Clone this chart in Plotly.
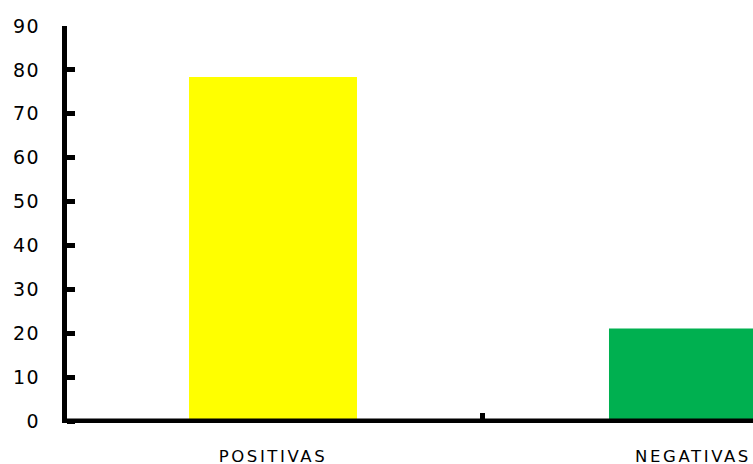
import plotly.graph_objects as go

# Share of results by category (%)
categories = ["POSITIVAS", "NEGATIVAS"]
values = [78.4, 21.1]
bar_colors = ["#FFFF00", "#00B050"]
y_ticks = [0, 10, 20, 30, 40, 50, 60, 70, 80, 90]

fig = go.Figure(
    go.Bar(
        x=categories,
        y=values,
        width=0.4,
        marker=dict(color=bar_colors, line=dict(width=0)),
    )
)

fig.update_layout(
    width=753,
    height=464,
    margin=dict(l=67, r=0, t=26, b=41, pad=0),
    paper_bgcolor="white",
    plot_bgcolor="white",
    showlegend=False,
    font=dict(family="DejaVu Sans", color="black"),
    bargap=0.6,
    # category axis baseline, drawn at y = 0 on top of the bars
    shapes=[
        dict(
            type="line",
            xref="paper", x0=0, x1=1,
            yref="y", y0=0, y1=0,
            line=dict(color="black", width=5),
            layer="above",
        )
    ],
)

fig.update_xaxes(
    type="category",
    automargin=False,
    range=[-0.4905, 1.1429],
    showline=False,
    showgrid=False,
    zeroline=False,
    ticks="inside",
    tickson="boundaries",
    ticklen=10,
    tickwidth=5,
    tickcolor="black",
    tickfont=dict(size=16.5, family="DejaVu Sans", color="black"),
    ticklabelstandoff=21,
)

fig.update_yaxes(
    automargin=False,
    range=[-0.45, 90],
    tickvals=y_ticks,
    showline=True,
    linecolor="black",
    linewidth=5,
    showgrid=False,
    zeroline=False,
    ticks="inside",
    ticklen=8,
    tickwidth=5,
    tickcolor="black",
    tickfont=dict(size=19, family="DejaVu Sans", color="black"),
    ticklabelstandoff=18,
)

# Widen the tick labels with letter spacing
post = """
var gd = document.getElementsByClassName('plotly-graph-div')[0];
function spaceLabels(){
  gd.querySelectorAll('.xtick text').forEach(function(t){
    t.style.letterSpacing = '2.6px';
  });
  gd.querySelectorAll('.ytick text').forEach(function(t){
    t.style.letterSpacing = '1.5px';
  });
}
spaceLabels();
gd.on('plotly_afterplot', spaceLabels);
"""

fig.write_html("out.html", post_script=post)
